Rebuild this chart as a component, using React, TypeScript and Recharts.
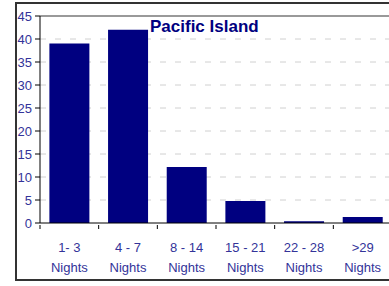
import React from "react";
import { BarChart, Bar, XAxis, YAxis, CartesianGrid, ReferenceLine } from "recharts";

const ranges = ["1- 3", "4 - 7", "8 - 14", "15 - 21", "22 - 28", ">29"];
const unitLabel = "Nights";
const shares = [39, 42, 12.2, 4.8, 0.4, 1.3];
const yTicks = [0, 5, 10, 15, 20, 25, 30, 35, 40, 45];
const title = "Pacific Island";

const data = ranges.map((r, i) => ({ range: r, value: shares[i] }));

const W = 400;
const H = 286;
const PLOT_LEFT = 40;
const PLOT_RIGHT = 392;
const labelColor = "#333399";
const barColor = "#000080";
const font = "Liberation Sans, Arial, sans-serif";

function NightsTick(props: any) {
  const { x, y, payload } = props;
  const band = (PLOT_RIGHT - PLOT_LEFT) / ranges.length;
  return (
    <g>
      <line x1={x - band / 2} y1={y - 6} x2={x - band / 2} y2={y - 2} stroke="#000" />
      <text x={x} y={y + 21} textAnchor="middle" fill={labelColor} fontSize={13} fontFamily={font}>
        {payload.value}
      </text>
      <text x={x} y={y + 41} textAnchor="middle" fill={labelColor} fontSize={13} fontFamily={font}>
        {unitLabel}
      </text>
    </g>
  );
}

export default function App() {
  return (
    <div
      style={{
        position: "fixed",
        left: 0,
        top: 0,
        width: 389,
        height: 286,
        background: "#fff",
        overflow: "hidden",
      }}
    >
      <div
        style={{
          position: "absolute",
          left: 15,
          top: 2,
          width: 390,
          height: 279,
          border: "2px solid #333",
          boxSizing: "border-box",
        }}
      />
      <div style={{ position: "absolute", left: 0, top: 0 }}>
        <BarChart
          width={W}
          height={H}
          data={data}
          margin={{ top: 16, right: W - PLOT_RIGHT, left: 0, bottom: 13 }}
          barCategoryGap="16%"
        >
          <CartesianGrid
            vertical={false}
            stroke="#d0d0d0"
            strokeDasharray="6 9"
            horizontalValues={[5, 10, 15, 20, 25, 30, 35, 40]}
          />
          <ReferenceLine y={45} stroke="#999" strokeWidth={2} />
          <XAxis
            dataKey="range"
            height={50}
            tick={<NightsTick />}
            tickLine={false}
            axisLine={{ stroke: "#000" }}
            interval={0}
          />
          <YAxis
            width={PLOT_LEFT}
            domain={[0, 45]}
            ticks={yTicks}
            interval={0}
            tickSize={5}
            tickMargin={3}
            tickLine={{ stroke: "#000" }}
            axisLine={{ stroke: "#000" }}
            tick={{ fill: labelColor, fontSize: 13, fontFamily: font }}
          />
          <Bar dataKey="value" fill={barColor} isAnimationActive={false} />
        </BarChart>
      </div>
      <div
        style={{
          position: "absolute",
          left: 150,
          top: 17,
          color: barColor,
          fontFamily: font,
          fontWeight: "bold",
          fontSize: 17,
          whiteSpace: "nowrap",
        }}
      >
        {title}
      </div>
    </div>
  );
}
